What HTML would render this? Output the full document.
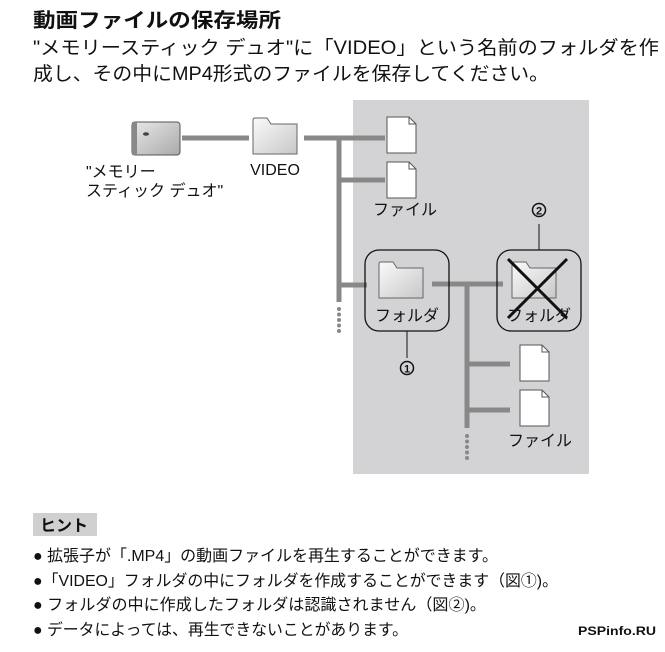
<!DOCTYPE html>
<html><head><meta charset="utf-8"><style>
body{margin:0;background:#fff;width:665px;height:647px;overflow:hidden}
text{font-family:"Liberation Sans","Noto Sans CJK JP",sans-serif;fill:#111}
</style></head><body>
<svg width="665" height="647" viewBox="0 0 665 647" xmlns="http://www.w3.org/2000/svg">
<defs>
<linearGradient id="fg" x1="0" y1="0" x2="1" y2="1"><stop offset="0" stop-color="#fafafa"/><stop offset="1" stop-color="#c8c8c8"/></linearGradient>
<linearGradient id="mg" x1="0" y1="0" x2="1" y2="1"><stop offset="0" stop-color="#e8e8e8"/><stop offset="1" stop-color="#aaa"/></linearGradient>
<g id="folder"><path d="M0,6 L0,2 Q0,0 2,0 L14,0 L18,6 L44,6 L44,36 L0,36 Z" fill="url(#fg)" stroke="#666" stroke-width="1"/></g>
<g id="file"><path d="M0,0 L22,0 L29,7 L29,36 L0,36 Z" fill="#fff" stroke="#555" stroke-width="1"/><path d="M22,0 L22,7 L29,7" fill="none" stroke="#555"/></g>
<g id="dots" fill="#888"><circle cx="0" cy="0" r="2"/><circle cx="0" cy="5.5" r="2"/><circle cx="0" cy="11" r="2"/><circle cx="0" cy="16.5" r="2"/><circle cx="0" cy="22" r="2"/></g>
</defs>
<text x="33" y="27" font-size="20" font-weight="bold" textLength="248" lengthAdjust="spacingAndGlyphs">動画ファイルの保存場所</text>
<text x="33" y="54" font-size="19" textLength="626" lengthAdjust="spacingAndGlyphs">"メモリースティック デュオ"に「VIDEO」という名前のフォルダを作</text>
<text x="33" y="80" font-size="19" textLength="516" lengthAdjust="spacingAndGlyphs">成し、その中にMP4形式のファイルを保存してください。</text>

<rect x="353" y="100" width="236" height="374" fill="#d3d3d5"/>

<g stroke="#888" stroke-width="5" fill="none">
<line x1="182" y1="138" x2="249" y2="138"/>
<line x1="304" y1="138" x2="385" y2="138"/>
<line x1="339" y1="138" x2="339" y2="302"/>
<line x1="339" y1="180" x2="385" y2="180"/>
<line x1="339" y1="285" x2="367" y2="285"/>
<line x1="432" y1="284" x2="503" y2="284"/>
<line x1="467" y1="284" x2="467" y2="428"/>
<line x1="467" y1="364" x2="510" y2="364"/>
<line x1="467" y1="410" x2="510" y2="410"/>
</g>
<use href="#dots" x="339" y="309"/>
<use href="#dots" x="467" y="436"/>

<rect x="132" y="122" width="48" height="33" rx="3" fill="url(#mg)" stroke="#555"/>
<rect x="132" y="122" width="5" height="33" fill="#888"/>
<ellipse cx="146" cy="134" rx="3" ry="1.8" fill="#444"/>
<use href="#folder" x="253" y="118"/>
<use href="#file" x="387" y="117"/>
<use href="#file" x="387" y="162"/>
<use href="#file" x="520" y="345"/>
<use href="#file" x="520" y="390"/>

<rect x="365" y="250" width="84" height="81" rx="14" fill="none" stroke="#111" stroke-width="1.3"/>
<use href="#folder" x="379" y="262"/>
<rect x="497" y="250" width="84" height="81" rx="14" fill="none" stroke="#111" stroke-width="1.3"/>
<use href="#folder" x="512" y="262"/>
<line x1="407" y1="331" x2="407" y2="358" stroke="#111"/>
<line x1="539" y1="224" x2="539" y2="250" stroke="#111"/>
<g stroke="#111" stroke-width="3"><line x1="508" y1="259" x2="567" y2="318"/><line x1="567" y1="259" x2="508" y2="318"/></g>

<g font-size="16">
<text x="86" y="177">"メモリー</text>
<text x="86" y="196">スティック デュオ"</text>
<text x="275" y="175" text-anchor="middle">VIDEO</text>
<text x="405" y="215" text-anchor="middle">ファイル</text>
<text x="407" y="321" text-anchor="middle">フォルダ</text>
<text x="539" y="321" text-anchor="middle">フォルダ</text>
<text x="540" y="446" text-anchor="middle">ファイル</text>
</g>
<circle cx="407" cy="368" r="6.5" fill="none" stroke="#111" stroke-width="1.5"/>
<text x="407" y="372.5" font-size="11" font-weight="bold" text-anchor="middle">1</text>
<circle cx="539" cy="210" r="6.5" fill="none" stroke="#111" stroke-width="1.5"/>
<text x="539" y="214.5" font-size="11" font-weight="bold" text-anchor="middle">2</text>

<rect x="33" y="513" width="64" height="23" fill="#d0d0d0"/>
<text x="40" y="531" font-size="16" font-weight="bold">ヒント</text>
<g font-size="16">
<text x="33" y="561" textLength="465" lengthAdjust="spacingAndGlyphs">● 拡張子が「.MP4」の動画ファイルを再生することができます。</text>
<text x="33" y="586" textLength="525" lengthAdjust="spacingAndGlyphs">●「VIDEO」フォルダの中にフォルダを作成することができます（図①)。</text>
<text x="33" y="610" textLength="453" lengthAdjust="spacingAndGlyphs">● フォルダの中に作成したフォルダは認識されません（図②)。</text>
<text x="33" y="635" textLength="375" lengthAdjust="spacingAndGlyphs">● データによっては、再生できないことがあります。</text>
</g>
<text x="578" y="635" font-size="12" font-weight="bold" textLength="78" lengthAdjust="spacingAndGlyphs">PSPinfo.RU</text>
</svg>
</body></html>
